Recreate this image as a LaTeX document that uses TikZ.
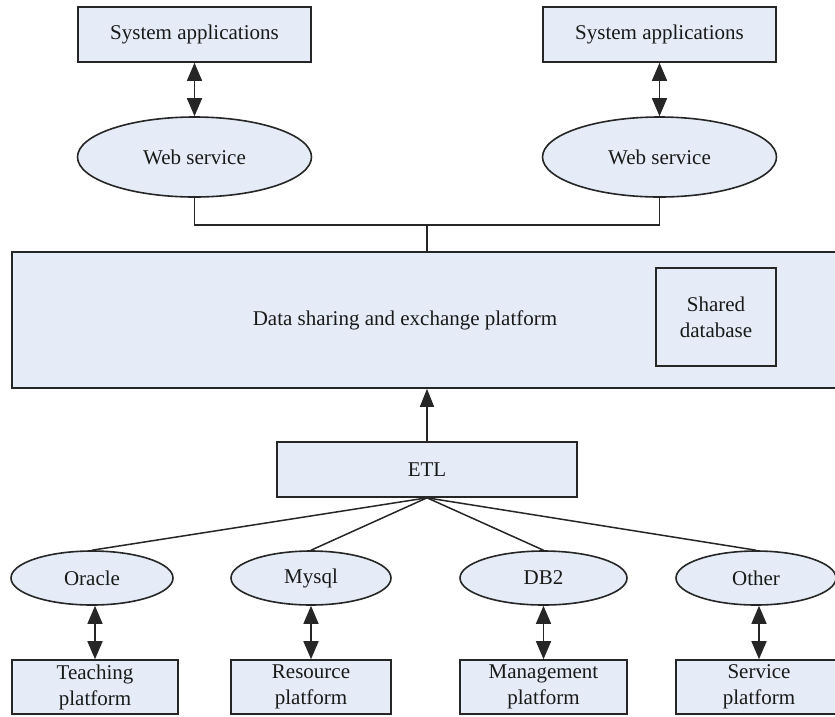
\documentclass[tikz,border=0pt]{standalone}
\usepackage{fontspec}
\setmainfont{Liberation Serif}
\usetikzlibrary{shapes.geometric,arrows.meta}
\definecolor{boxfill}{HTML}{E5ECF7}
\definecolor{boxline}{HTML}{262626}
\tikzset{
  txt/.style={font=\fontsize{21}{26}\selectfont, text=black!90},
  base/.style={txt, draw=boxline, fill=boxfill, line width=1.6pt, inner sep=0pt, align=center},
  rbox/.style={base, rectangle},
  ebox/.style={base, ellipse},
  conn/.style={draw=boxline, line width=1.5pt},
  dbl/.style={conn, {Triangle[length=18pt,width=15pt]}-{Triangle[length=18pt,width=15pt]}},
  up/.style={conn, -{Triangle[length=18pt,width=14pt]}},
}
\begin{document}
\begin{tikzpicture}[x=1pt,y=-1pt]
\useasboundingbox (0,0) rectangle (835,716);
% top row
\node[rbox, minimum width=233pt, minimum height=55pt] (sysL) at (194.5,34.5) {System applications};
\node[rbox, minimum width=233pt, minimum height=55pt] (sysR) at (659.5,34.5) {System applications};
\node[ebox, minimum width=234pt, minimum height=80pt] (webL) at (194.5,157) {Web service};
\node[ebox, minimum width=234pt, minimum height=80pt] (webR) at (659.5,157) {Web service};
% platform
\node[rbox, minimum width=836pt, minimum height=136pt] (main) at (430,320) {};
\node[txt] (maintext) at (405,320) {Data sharing and exchange platform};
\node[rbox, minimum width=120pt, minimum height=98pt] (shared) at (716,317) {Shared\\database};
% ETL
\node[rbox, minimum width=300pt, minimum height=55pt] (etl) at (427,469.5) {ETL};
% databases
\node[ebox, minimum width=162pt, minimum height=54pt] (oracle) at (92,578) {Oracle};
\node[ebox, minimum width=160pt, minimum height=54pt] (mysql) at (311,578) {Mysql};
\node[ebox, minimum width=167pt, minimum height=54pt] (db2) at (543.5,578) {DB2};
\node[ebox, minimum width=160pt, minimum height=54pt] (other) at (756,578) {Other};
% platforms
\node[rbox, minimum width=166pt, minimum height=54pt] (teach) at (95,687) {Teaching\\platform};
\node[rbox, minimum width=160pt, minimum height=54pt] (res) at (311,687) {Resource\\platform};
\node[rbox, minimum width=167pt, minimum height=54pt] (mgmt) at (543.5,687) {Management\\platform};
\node[rbox, minimum width=166pt, minimum height=54pt] (serv) at (759,687) {Service\\platform};
% connectors
\draw[dbl] (sysL.south) -- (webL.north);
\draw[dbl] (sysR.south) -- (webR.north);
\coordinate (j) at (427,225);
\draw[conn] (webL.south) |- (j) -| (webR.south);
\draw[conn] (j) -- (j |- main.north);
\draw[up] (etl.north) -- (etl.north |- main.south);
\draw[conn] (etl.south) -- (oracle.north);
\draw[conn] (etl.south) -- (mysql.north);
\draw[conn] (etl.south) -- (db2.north);
\draw[conn] (etl.south) -- (other.north);
\draw[dbl] (oracle.south -| teach.north) -- (teach.north);
\draw[dbl] (mysql.south) -- (res.north);
\draw[dbl] (db2.south) -- (mgmt.north);
\draw[dbl] (other.south -| serv.north) -- (serv.north);
\end{tikzpicture}
\end{document}
